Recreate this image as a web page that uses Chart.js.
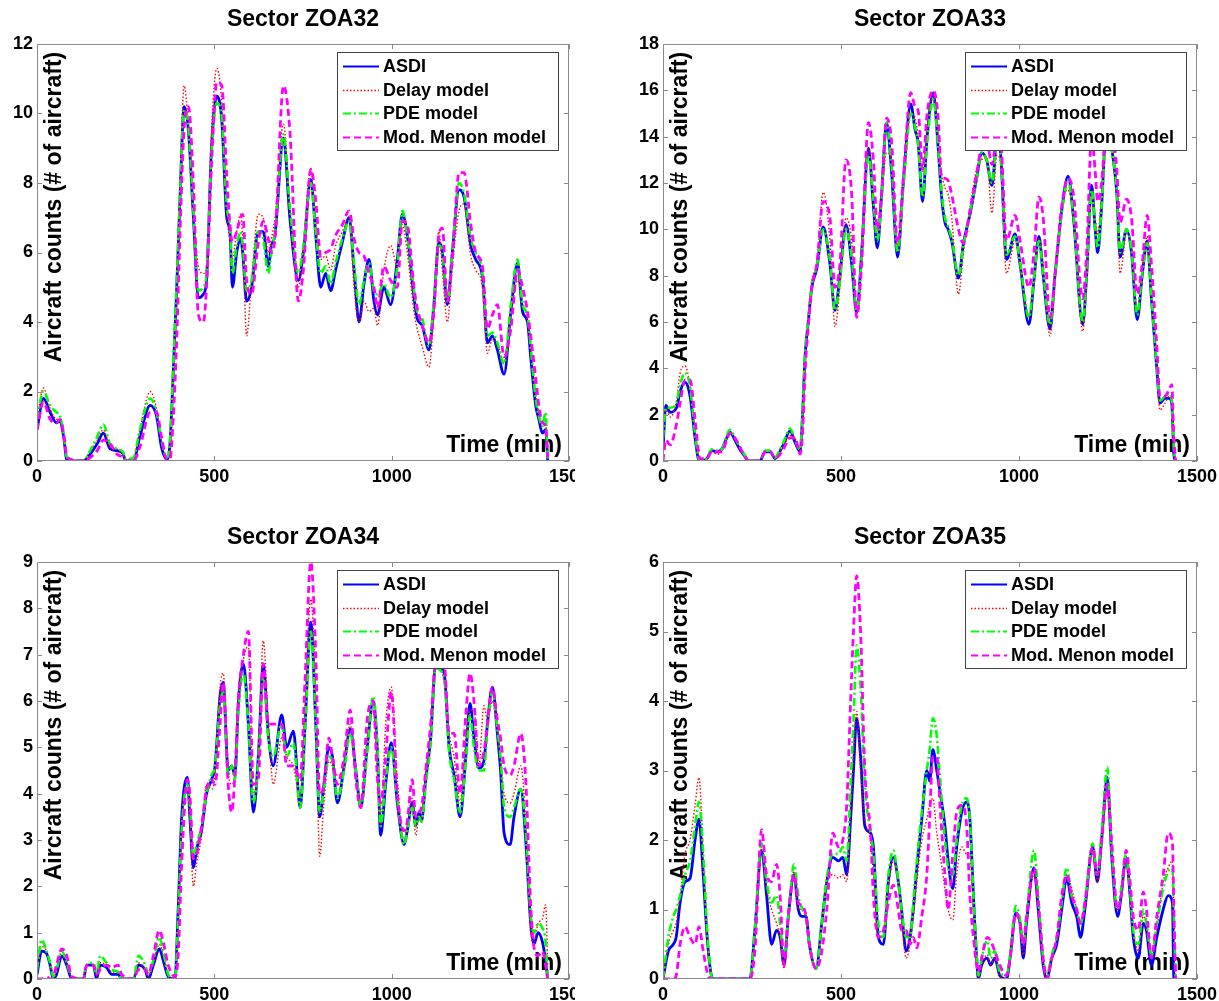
<!DOCTYPE html>
<html>
<head>
<meta charset="utf-8">
<title>Aircraft counts by sector</title>
<script src="https://cdn.jsdelivr.net/npm/chart.js@4"></script>
<style>
  html, body { margin: 0; padding: 0; background: #fff; }
  body { width: 1219px; height: 1001px; position: relative; overflow: hidden; }
  .panel { position: absolute; overflow: hidden; }
  .panel canvas { position: absolute; left: 0; top: 0; }
</style>
</head>
<body>
<div class="panel" style="left:0;top:0;width:575px;height:500px"><canvas id="zoa32" width="610" height="500"></canvas></div>
<div class="panel" style="left:600px;top:0;width:619px;height:500px"><canvas id="zoa33" width="640" height="500"></canvas></div>
<div class="panel" style="left:0;top:500px;width:575px;height:501px"><canvas id="zoa34" width="610" height="501"></canvas></div>
<div class="panel" style="left:600px;top:500px;width:619px;height:501px"><canvas id="zoa35" width="640" height="501"></canvas></div>
<script>
const seriesNames = ['ASDI', 'Delay model', 'PDE model', 'Mod. Menon model'];
const xTicks = [0, 500, 1000, 1500];

// Sector ZOA32
const zoa32Ticks = [0, 2, 4, 6, 8, 10, 12];
const zoa32Time = [0,18,37,55,65,75,85,130,150,170, 187,206,225,243,250,272,290,319,337,351,
  366,375,384,394,403,415,427,441,455,469, 478,492,507,521,535,544,551,563,574,580,
  591,605,624,638,652,661,671,695,713,737, 751,772,786,800,814,828,842,861,880,894,
  908,922,936,950,960,978,997,1016,1030,1044, 1063,1072,1086,1105,1119,1133,1143,1157,1171,1190,
  1204,1223,1237,1256,1270,1284,1298,1317,1336,1355, 1369,1383,1392,1406,1415,1425,1434,1440];
const zoa32Asdi = [0.9,1.8,1.4,1.1,1.15,0.7,0,0,0.2,0.5, 0.8,0.35,0.3,0.2,0,0,0.7,1.6,1.3,0.4,
  0.05,0.5,2.5,5,7.5,10.2,9.5,7,4.7,4.8, 5.2,9,10.5,9.8,7,6.6,5.0,6.0,6.4,6.0,
  4.6,5.0,6.6,6.6,5.6,6.2,6.5,9.3,7,5.2, 6,8.1,6.5,5.0,5.4,4.9,5.5,6.3,7.0,5.5,
  4.0,5.1,5.8,4.6,4.2,5.0,4.5,5.8,7.1,6.5, 4.7,4.1,3.9,3.2,4.5,6.3,6.0,4.5,6.0,7.8,
  7.6,6.2,5.8,5.3,3.4,3.6,3.2,2.5,4.3,5.7, 4.3,4.0,3.0,1.6,1.2,0.8,0.9,0];
const zoa32Delay = [1.2,2.1,1.5,1.2,1.2,0.8,0.1,0,0.3,0.6, 0.9,0.4,0.35,0.2,0.05,0.1,0.9,2.0,1.5,0.6,
  0.1,0.3,2.2,4.8,7.8,10.8,9.6,7.3,5.6,5.4, 5.6,9.5,11.3,10.3,7.2,6.3,5.8,6.6,7.1,6.4,
  3.6,5.2,7.1,7.0,6.0,6.4,7.0,9.7,7.3,5.0, 6.2,8.4,6.8,5.8,5.9,5.5,6.2,6.6,7.0,5.0,
  4.0,4.6,4.3,4.4,3.9,5.5,6.2,5.6,6.8,6.0, 4.3,3.8,3.3,2.7,4.2,6.6,5.5,4.0,5.6,7.2,
  7.4,5.9,5.5,5.0,3.1,3.5,3.4,2.8,4.2,5.2, 4.6,4.0,3.3,1.9,1.4,1.0,1.1,0.3];
const zoa32Pde = [1.2,2.0,1.6,1.4,1.3,0.8,0.1,0,0.3,0.7, 1.05,0.5,0.35,0.25,0.05,0.1,0.9,1.8,1.4,0.6,
  0.1,0.6,2.7,5.2,7.6,10.1,9.6,7.2,4.9,5.0, 5.4,8.8,10.3,9.9,7.3,6.8,5.4,6.2,6.6,6.2,
  4.9,5.2,6.6,6.4,5.4,6.0,6.6,9.4,7.3,5.4, 6.2,8.0,6.6,5.4,5.6,5.1,5.7,6.4,6.9,5.7,
  4.5,5.2,5.7,4.9,4.8,5.1,4.7,5.6,7.2,6.5, 4.9,4.3,4.1,3.3,4.6,6.2,6.0,4.6,6.0,8.0,
  7.7,6.4,6.0,5.4,3.6,3.7,3.4,2.8,4.5,5.8, 4.5,4.2,3.3,1.8,1.3,1.0,1.4,0];
const zoa32Menon = [0.9,1.7,1.2,1.1,1.2,0.8,0.1,0,0.1,0.3, 0.6,0.5,0.2,0.1,0,0,0.4,1.4,1.4,0.7,
  0.05,0.05,1.2,3.5,6.5,9.6,10.2,8,4.2,4.0, 5.0,8.5,10.9,10.8,8.2,6.8,6.3,6.6,7.0,7.1,
  5.2,4.8,6.3,6.9,6.4,6.0,6.4,10.8,9.5,4.6, 5.5,8.4,7.5,5.9,6.0,6.1,6.5,6.8,7.2,6.4,
  6.0,5.9,5.4,5.0,4.4,5.6,5.2,5.0,6.9,6.8, 5.0,4.4,3.9,3.4,4.3,6.5,6.7,4.6,5.8,8.3,
  8.3,6.8,6.0,5.6,3.8,4.2,4.5,3.0,3.8,5.5, 5.0,4.3,3.6,2.4,1.6,1.1,1.0,0.1];

// Sector ZOA33
const zoa33Ticks = [0, 2, 4, 6, 8, 10, 12, 14, 16, 18];
const zoa33Time = [0,8,20,38,48,62,76,90,99,104, 123,137,151,165,179,188,202,216,230,240,
  272,287,301,315,324,338,357,371,385,392, 399,408,418,432,450,469,483,497,514,530,
  544,558,577,591,602,614,628,642,659,675, 696,708,717,729,742,759,773,782,792,801,
  811,830,844,863,881,895,909,924,938,947, 965,989,1003,1028,1042,1056,1068,1087,1101,1120,
  1138,1153,1179,1190,1204,1214,1221,1232,1246,1265, 1275,1284,1302,1316,1332,1346,1360,1372,1387,1396,
  1410,1422,1429,1435,1440];
const zoa33Asdi = [0.5,2.4,2.1,2.3,3.0,3.4,2.8,1.0,0.1,0, 0.1,0.45,0.4,0.5,1.0,1.25,0.9,0.5,0.2,0,
  0,0.4,0.4,0.1,0.3,0.7,1.3,0.8,0.4,2.0, 4.5,6.0,7.5,8.3,10.1,8.5,6.5,8.0,10.2,8.5,
  6.4,9.0,13.5,11,9.2,11.5,14.6,12.5,8.8,12, 15.4,14.3,13.7,11.2,14,15.9,13.5,11.5,10.3,10.0,
  9.5,7.9,9.4,10.7,12.2,13.3,13.0,11.9,13.8,13.5, 8.7,9.8,8.5,5.9,7.8,9.7,8.0,5.7,8.0,10.8,
  12.3,10.5,5.9,8,11.9,10,9.0,11,14.5,13, 11.5,8.8,10.0,9,6.1,8,9.5,7,4,2.5,
  2.7,2.7,2.5,0.3,0];
const zoa33Delay = [1.8,2.2,1.9,2.6,3.8,4.1,3.2,1.2,0.2,0, 0.1,0.4,0.3,0.4,1.0,1.2,1.0,0.6,0.2,0,
  0,0.4,0.4,0.1,0.3,0.6,1.1,1.0,0.4,1.7, 4.3,6.1,7.8,8.5,11.6,9.5,5.8,7.5,10.5,9.5,
  6.4,8.5,13.5,11.5,9.8,11.5,13.3,13.0,9.3,11.8, 15.0,14.8,14.0,12.5,14.5,15.8,14.0,12.5,11.8,11.5,
  10.5,7.2,9.0,11.0,12.6,13.0,13.1,10.7,13.2,13.0, 8.1,9.5,8.3,6.2,7.6,9.6,8.5,5.4,7.8,11.0,
  11.7,10.4,5.6,7.8,11.5,10.5,9.8,11.5,14.3,13.2, 11.2,8.1,9.8,9.2,6.5,8.2,9.7,7.5,4.2,2.2,
  2.5,2.8,2.6,0.5,0];
const zoa33Pde = [1.0,2.3,2.3,2.5,3.3,3.8,3.2,1.2,0.2,0, 0.1,0.5,0.45,0.5,1.1,1.35,1.0,0.6,0.25,0,
  0,0.45,0.45,0.15,0.35,0.8,1.4,0.9,0.5,2.1, 4.6,6.1,7.6,8.4,10.0,8.7,6.5,7.8,10.0,8.8,
  6.5,8.8,13.2,11.3,9.5,11.3,14.6,12.8,9.0,11.8, 15.0,14.4,13.6,11.4,13.8,15.6,13.6,11.7,10.5,10.1,
  9.6,8.0,9.3,10.8,12.2,13.3,13.0,12.0,13.6,13.4, 8.9,9.7,8.6,6.2,7.9,9.5,8.1,5.9,7.9,10.7,
  12.1,10.6,6.0,8.1,11.7,10.1,9.2,11,14.3,13, 11.6,9.0,10.0,9.1,6.3,8.1,9.4,7.1,4.1,2.6,
  2.8,2.9,2.6,0.5,0];
const zoa33Menon = [0,0.9,0.7,1.6,2.5,3.5,3.5,1.8,0.5,0.1, 0.1,0.4,0.4,0.4,0.9,1.2,1.0,0.6,0.2,0,
  0,0.4,0.4,0.1,0.2,0.5,1.0,1.0,0.3,1.2, 3.8,5.8,7.5,8.5,11.2,10.5,7.5,8.5,13.0,11.5,
  6.2,8.5,14.6,13.0,10.0,11.5,14.8,13.8,9.4,12.2, 15.9,15.3,15.1,12.6,15.0,16.0,14.8,12.3,12.2,12.1,
  11.5,10.0,9.4,10.9,12.4,13.6,13.8,12.8,14.0,14.0, 9.5,10.6,9.5,7.5,9.0,11.4,10.5,6.2,8.0,11.0,
  12.2,11.5,7.0,9.0,14.0,12.5,11.2,12.0,14.5,14.0, 12.5,10.3,11.3,10.5,7.2,8.5,10.6,8.5,5.0,2.8,
  2.8,3.1,3.3,1.0,0];

// Sector ZOA34
const zoa34Ticks = [0, 1, 2, 3, 4, 5, 6, 7, 8, 9];
const zoa34Time = [0,13,27,37,46,55,70,84,98,131, 140,159,168,178,196,211,229,239,272,286,
  305,314,328,345,356,370,389,398,408,424, 431,441,450,464,478,492,502,516,525,539,
  549,558,568,582,596,610,624,638,652,666, 690,704,723,742,756,772,786,797,809,823,
  833,847,866,883,899,913,931,948,960,969, 983,999,1016,1035,1044,1058,1068,1077,1084,1096,
  1110,1124,1148,1162,1176,1193,1209,1221,1232,1246, 1260,1270,1284,1298,1307,1317,1334,1345,1364,1378,
  1392,1401,1413,1425,1434,1440];
const zoa34Asdi = [0.1,0.6,0.55,0.3,0,0.1,0.5,0.3,0,0, 0.3,0.3,0,0.3,0.25,0.1,0.1,0,0,0.3,
  0.2,0,0.3,0.65,0.4,0.05,0,1.5,3.5,4.35, 3.5,2.4,2.8,3.2,4.0,4.3,4.6,6.1,6.4,4.5,
  4.6,4.4,6.0,6.8,5.5,3.6,4.8,6.8,5.3,4.6, 5.7,5.0,5.35,3.7,5.5,7.7,5.5,3.5,4.2,5.0,
  4.8,3.8,4.6,5.4,4.5,3.7,5.0,6.0,4.9,3.1, 4.2,5.1,3.8,2.9,3.2,3.8,3.3,3.6,3.4,4.3,
  5.2,6.8,6.6,5.0,4.4,3.5,4.8,5.95,5.2,4.55, 4.7,5.5,6.3,5.3,4.5,3.15,2.9,3.5,4.1,3.0,
  1.2,0.75,1.0,0.8,0.4,0];
const zoa34Delay = [0.2,0.7,0.6,0.35,0.05,0.15,0.6,0.35,0.05,0, 0.3,0.3,0.05,0.35,0.3,0.15,0.15,0,0,0.35,
  0.2,0.05,0.35,0.75,0.5,0.1,0,1.3,3.3,4.2, 3.4,2.0,2.5,3.1,4.2,4.1,4.4,6.3,6.6,4.5,
  4.2,4.5,6.2,6.9,7.2,4.0,4.6,7.3,5.6,4.2, 5.2,4.8,4.6,3.9,6.0,8.2,6.0,2.65,3.8,4.7,
  4.6,4.4,4.5,5.5,4.4,3.8,5.2,5.8,4.4,3.3, 5.5,6.3,4.3,3.0,3.3,3.9,3.1,3.5,3.4,4.4,
  5.4,6.8,6.4,5.3,4.8,3.8,5.2,5.8,5.8,4.6, 5.9,5.6,6.0,5.3,4.8,4.0,3.8,4.0,4.6,3.4,
  1.0,0.8,1.2,1.3,1.6,0.3];
const zoa34Pde = [0.2,0.85,0.6,0.35,0.05,0.2,0.6,0.35,0.05,0, 0.3,0.35,0.1,0.5,0.35,0.2,0.15,0,0,0.5,
  0.3,0.1,0.4,0.9,0.6,0.1,0,1.3,3.2,4.2, 3.8,2.6,2.9,3.3,4.0,4.4,4.6,5.9,6.2,4.4,
  4.6,4.3,5.8,6.6,5.5,3.8,4.7,6.5,5.2,4.8, 5.5,4.8,5.1,3.7,5.4,7.5,5.6,3.6,4.1,4.8,
  4.7,3.9,4.5,5.3,4.5,3.7,4.9,6.1,5.0,3.3, 4.3,5.0,3.9,2.9,3.2,3.7,3.3,3.5,3.4,4.2,
  5.1,6.7,6.5,4.9,4.3,3.6,4.7,5.7,5.0,4.5, 4.5,5.4,6.2,5.4,4.8,3.7,3.5,3.7,4.1,3.2,
  1.4,1.0,1.2,1.1,0.8,0];
const zoa34Menon = [0,0,0.05,0,0.05,0.3,0.65,0.5,0.05,0, 0.3,0.3,0.1,0.2,0.3,0.25,0.3,0.1,0,0.2,
  0.2,0.1,0.5,1.05,0.8,0.3,0.05,0.5,2.5,4.3, 4.0,2.6,2.7,3.3,4.1,4.3,4.2,5.5,6.4,4.2,
  3.6,4.4,6.0,7.0,7.5,4.2,4.3,6.8,5.5,5.5, 5.5,4.6,4.6,4.3,6.5,9.0,7.0,4.0,4.2,5.2,
  4.8,4.2,4.8,5.8,4.3,3.7,5.6,6.0,4.3,3.8, 4.8,6.2,4.0,3.2,3.4,4.3,3.5,3.6,3.7,4.5,
  5.5,6.8,6.8,5.3,5.3,4.0,5.7,6.6,6.0,4.6, 4.9,5.5,6.3,5.6,5.2,4.6,4.4,4.6,5.3,4.3,
  1.6,0.7,0.5,0.6,0.3,0];

// Sector ZOA35
const zoa35Ticks = [0, 1, 2, 3, 4, 5, 6];
const zoa35Time = [0,15,29,37,48,62,76,90,101,113, 124,134,140,244,258,277,291,305,319,329,
  340,352,368,380,392,402,411,430,446,460, 477,493,505,516,527,535,544,555,567,583,
  591,605,619,633,647,661,670,683,694,703, 713,727,741,749,758,769,778,792,801,814,
  825,839,853,862,872,881,886,895,911,920, 932,946,965,975,991,1003,1012,1021,1042,1054,
  1068,1078,1092,1106,1120,1134,1148,1162,1173,1185, 1207,1220,1232,1248,1260,1277,1287,1301,1312,1321,
  1335,1349,1358,1372,1387,1405,1419,1431,1435,1440];
const zoa35Asdi = [0,0.4,0.5,0.6,1.1,1.4,1.45,2.0,2.3,1.5, 0.6,0.1,0,0,0.7,1.85,1.2,0.5,0.7,0.6,
  0.2,0.9,1.5,1.0,0.9,0.9,0.5,0.15,0.8,1.4, 1.75,1.7,1.75,1.5,2.3,3.0,3.75,3.2,2.2,2.1,
  1.9,0.6,0.5,1.4,1.75,1.4,1.0,0.4,0.6,1.0, 1.6,2.3,3.0,2.85,3.3,3.0,2.7,2.2,1.7,1.3,
  1.9,2.4,2.55,2.3,1.2,0.3,0,0.2,0.3,0.2, 0.3,0.05,0,0.3,0.95,0.8,0.3,0.8,1.6,1.0,
  0.2,0,0.3,0.5,1.0,1.45,1.1,0.9,0.6,1.0, 1.9,1.4,2.0,2.9,1.8,0.9,1.2,1.75,1.2,0.6,
  0.3,0.8,0.7,0.2,0.6,1.0,1.2,1.1,0,0];
const zoa35Delay = [0,0.5,0.7,0.8,1.2,1.8,2.0,2.5,2.9,1.8, 0.6,0.1,0,0,0.6,1.9,1.3,1.0,0.8,0.6,
  0.15,0.9,1.55,1.0,1.0,0.9,0.5,0.15,0.7,1.4, 1.5,1.45,1.5,1.4,2.4,3.2,3.85,3.0,2.3,2.0,
  1.5,0.6,0.6,1.3,1.7,1.4,0.9,0.3,0.5,0.9, 1.4,2.0,2.3,2.5,2.6,2.1,1.8,1.3,1.0,0.85,
  1.5,1.9,1.8,1.8,1.0,0.2,0,0.2,0.35,0.2, 0.3,0.05,0,0.3,0.9,0.8,0.35,0.8,1.5,1.0,
  0.2,0,0.3,0.6,1.1,1.5,1.3,1.0,0.8,1.0, 1.8,1.4,1.9,2.7,1.8,1.0,1.2,1.7,1.2,0.7,
  0.4,0.9,0.8,0.3,0.7,1.4,1.6,1.7,1.0,0];
const zoa35Pde = [0,0.6,0.9,1.0,1.2,1.5,1.7,2.2,2.55,1.8, 0.7,0.1,0,0,0.7,1.95,1.4,1.1,1.2,0.8,
  0.3,0.9,1.65,1.2,1.0,0.9,0.5,0.15,0.8,1.45, 1.8,1.8,1.9,1.7,2.8,3.7,4.8,4.2,2.8,2.1,
  1.8,0.8,0.6,1.5,1.85,1.4,1.0,0.6,0.6,1.1, 1.7,2.4,3.0,3.3,3.75,3.5,2.9,2.0,1.6,1.5,
  2.0,2.5,2.6,2.3,1.2,0.4,0.05,0.3,0.55,0.3, 0.4,0.1,0.05,0.35,1.05,0.85,0.5,0.9,1.85,1.2,
  0.3,0.05,0.35,0.6,1.1,1.6,1.2,1.0,0.8,1.1, 1.95,1.5,2.1,3.05,1.9,1.0,1.3,1.8,1.3,0.7,
  0.5,1.0,0.8,0.35,0.8,1.3,1.55,1.6,0.9,0];
const zoa35Menon = [0,0,0,0.05,0.5,0.75,0.6,0.5,0.75,0.4, 0.1,0,0,0,0.4,2.15,1.5,1.4,1.65,1.2,
  0.2,0.9,1.5,1.1,1.05,0.9,0.5,0.15,0.4,1.0, 2.1,1.9,2.0,2.5,4.0,5.0,5.8,5.0,3.0,2.1,
  1.2,0.6,0.7,1.1,1.35,1.0,0.7,0.7,0.5,0.6, 0.45,0.9,1.5,2.3,3.2,3.2,2.5,1.5,1.0,1.8,
  2.4,2.5,2.2,1.2,0.6,0.2,0.1,0.3,0.6,0.55, 0.4,0.2,0.05,0.3,0.95,0.8,0.5,0.9,1.6,1.1,
  0.3,0,0.3,0.6,1.2,1.5,1.2,1.0,0.8,1.1, 1.9,1.5,2.0,2.8,2.0,1.0,1.2,1.85,1.4,0.9,
  0.7,1.25,1.0,0.3,0.9,1.5,2.1,1.95,1.0,0];

const FONT = "'Liberation Sans', Arial, sans-serif";
Chart.defaults.font.family = FONT;
Chart.defaults.font.weight = 'bold';
Chart.defaults.color = '#000';

const lineStyles = [
  { color: '#0000ff', width: 2.8, dash: [] },
  { color: '#ff0000', width: 1.4, dash: [1.5, 2] },
  { color: '#00ff00', width: 2.6, dash: [8, 3, 2, 3] },
  { color: '#ff00ff', width: 2.8, dash: [7, 4] }
];

// MATLAB-like frame: title, axis labels inside the box, inward ticks, boxed legend
const panelDecor = {
  id: 'panelDecor',
  beforeDatasetsDraw(chart, args, opts) {
    const { ctx, chartArea: a } = chart;
    ctx.save();
    ctx.fillStyle = '#000';
    ctx.font = 'bold 23px ' + FONT;
    ctx.textAlign = 'center';
    ctx.textBaseline = 'middle';
    ctx.fillText(opts.title, (a.left + a.right) / 2, a.top - 24);
    ctx.textAlign = 'right';
    ctx.textBaseline = 'alphabetic';
    ctx.fillText('Time (min)', a.right - 7, a.bottom - 9);
    ctx.translate(a.left + 18, a.top + 163);
    ctx.rotate(-Math.PI / 2);
    ctx.textAlign = 'center';
    ctx.textBaseline = 'middle';
    ctx.fillText('Aircraft counts (# of aircraft)', 0, 0);
    ctx.restore();
  },
  afterDatasetsDraw(chart) {
    const { ctx, chartArea: a, scales } = chart;
    ctx.save();
    ctx.strokeStyle = '#8a8a8a';
    ctx.lineWidth = 1;
    ctx.strokeRect(a.left + 0.5, a.top + 0.5, a.right - a.left - 1, a.bottom - a.top - 1);
    ctx.beginPath();
    scales.x.ticks.forEach(t => {
      const px = Math.round(scales.x.getPixelForValue(t.value)) + 0.5;
      ctx.moveTo(px, a.bottom); ctx.lineTo(px, a.bottom - 5);
      ctx.moveTo(px, a.top); ctx.lineTo(px, a.top + 5);
    });
    scales.y.ticks.forEach(t => {
      const py = Math.round(scales.y.getPixelForValue(t.value)) + 0.5;
      ctx.moveTo(a.left, py); ctx.lineTo(a.left + 5, py);
      ctx.moveTo(a.right, py); ctx.lineTo(a.right - 5, py);
    });
    ctx.stroke();

    // legend
    const bx = a.right - 232, by = a.top + 8, bw = 221, bh = 98;
    ctx.fillStyle = '#fff';
    ctx.fillRect(bx, by, bw, bh);
    ctx.strokeStyle = '#444';
    ctx.strokeRect(bx + 0.5, by + 0.5, bw, bh);
    ctx.font = 'bold 18px ' + FONT;
    ctx.textAlign = 'left';
    ctx.textBaseline = 'middle';
    chart.data.datasets.forEach((ds, i) => {
      const cy = Math.round(by + 14 + i * 23.5) + 0.5;
      ctx.strokeStyle = lineStyles[i].color;
      ctx.lineWidth = Math.min(lineStyles[i].width, 2);
      ctx.setLineDash(lineStyles[i].dash);
      ctx.beginPath();
      ctx.moveTo(bx + 6, cy); ctx.lineTo(bx + 42, cy);
      ctx.stroke();
      ctx.setLineDash([]);
      ctx.fillStyle = '#000';
      ctx.fillText(ds.label, bx + 46, cy + 1);
    });
    ctx.restore();
  }
};

function drawSector(id, title, area, time, yTicks, asdi, delay, pde, menon) {
  const canvas = document.getElementById(id);
  const values = [asdi, delay, pde, menon];
  return new Chart(canvas, {
    type: 'line',
    data: {
      datasets: values.map((vals, i) => ({
        label: seriesNames[i],
        data: time.map((t, k) => ({ x: t, y: vals[k] })),
        borderColor: lineStyles[i].color,
        borderWidth: lineStyles[i].width,
        borderDash: lineStyles[i].dash,
        pointRadius: 0,
        fill: false,
        cubicInterpolationMode: 'monotone',
        order: 4 - i
      }))
    },
    options: {
      responsive: false,
      animation: false,
      events: [],
      layout: {
        autoPadding: false,
        padding: { left: 0, top: area.top, right: canvas.width - area.right, bottom: 0 }
      },
      scales: {
        x: {
          type: 'linear',
          min: xTicks[0],
          max: xTicks[xTicks.length - 1],
          afterBuildTicks: s => { s.ticks = xTicks.map(v => ({ value: v })); },
          afterFit: s => { s.height = canvas.height - area.bottom; },
          grid: { display: false, drawTicks: false },
          border: { display: false },
          ticks: {
            font: { size: 18, weight: 'bold' }, color: '#000', padding: 5, maxRotation: 0,
            callback: v => String(v)
          }
        },
        y: {
          type: 'linear',
          min: yTicks[0],
          max: yTicks[yTicks.length - 1],
          afterBuildTicks: s => { s.ticks = yTicks.map(v => ({ value: v })); },
          afterFit: s => { s.width = area.left; },
          grid: { display: false, drawTicks: false },
          border: { display: false },
          ticks: { font: { size: 18, weight: 'bold' }, color: '#000', padding: 4, callback: v => String(v) }
        }
      },
      plugins: {
        legend: { display: false },
        tooltip: { enabled: false },
        panelDecor: { title: title }
      }
    },
    plugins: [panelDecor]
  });
}

drawSector('zoa32', 'Sector ZOA32', { left: 37, top: 44, right: 569, bottom: 461 },
  zoa32Time, zoa32Ticks, zoa32Asdi, zoa32Delay, zoa32Pde, zoa32Menon);
drawSector('zoa33', 'Sector ZOA33', { left: 63, top: 44, right: 597, bottom: 461 },
  zoa33Time, zoa33Ticks, zoa33Asdi, zoa33Delay, zoa33Pde, zoa33Menon);
drawSector('zoa34', 'Sector ZOA34', { left: 37, top: 62, right: 569, bottom: 479 },
  zoa34Time, zoa34Ticks, zoa34Asdi, zoa34Delay, zoa34Pde, zoa34Menon);
drawSector('zoa35', 'Sector ZOA35', { left: 63, top: 62, right: 597, bottom: 479 },
  zoa35Time, zoa35Ticks, zoa35Asdi, zoa35Delay, zoa35Pde, zoa35Menon);
</script>
</body>
</html>
